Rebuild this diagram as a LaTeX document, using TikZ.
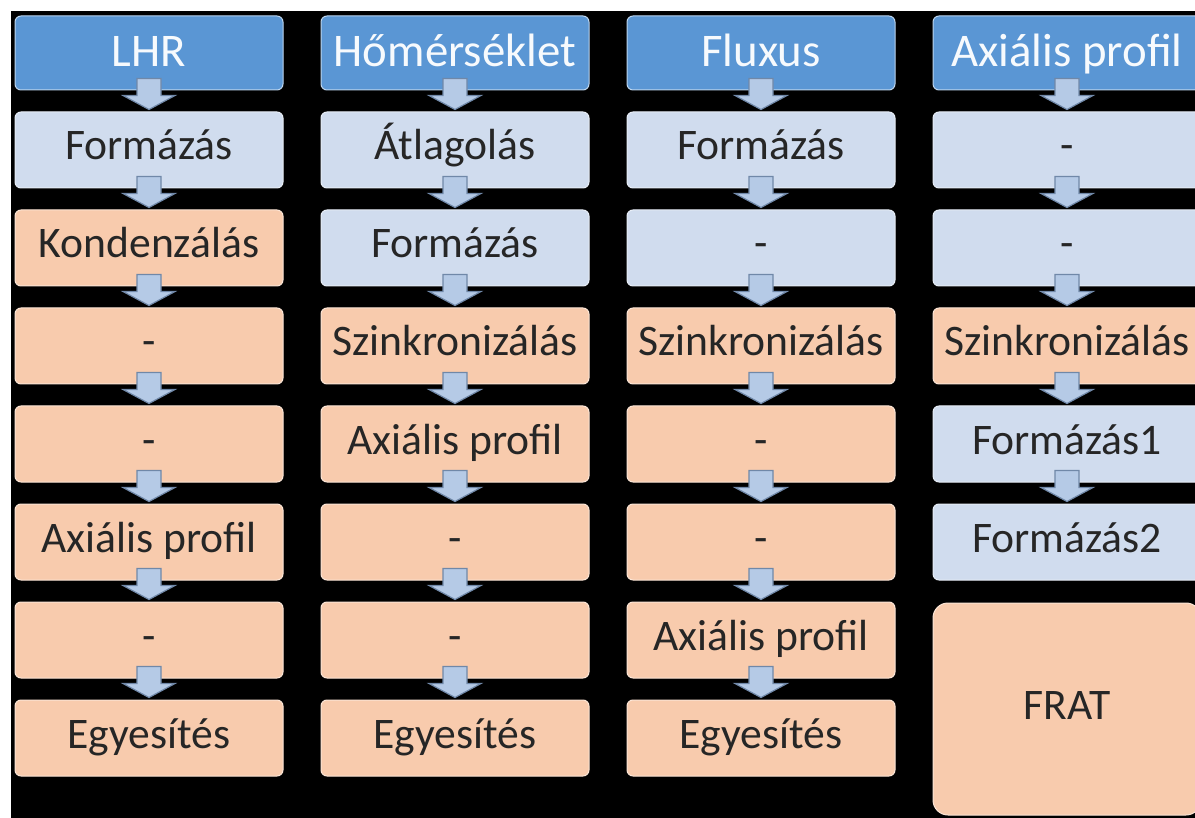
\documentclass[tikz,border=0pt]{standalone}
\usepackage{fontspec}
\setmainfont{Carlito}
\usetikzlibrary{calc}
\definecolor{hdrblue}{HTML}{5A96D4}
\definecolor{paleblue}{HTML}{D0DCEE}
\definecolor{peach}{HTML}{F8CBAD}
\definecolor{arrowfill}{HTML}{B5CAE6}
\definecolor{arrowline}{HTML}{7088A8}
\definecolor{ink}{HTML}{262626}
\newcommand{\flowto}[2]{\filldraw[flowarrow] ($(#1.south)+(-12,-12)$) -- ($(#1.south)+(-12,5)$) -- ($(#1.south)+(-26,5)$) -- ($(#2.north)+(0,-2)$) -- ($(#1.south)+(26,5)$) -- ($(#1.south)+(12,5)$) -- ($(#1.south)+(12,-12)$) -- cycle;}

\begin{document}
\begin{tikzpicture}[x=0.5pt,y=-0.5pt,
  every node/.style={rounded corners=3pt,minimum width=134pt,minimum height=38pt,inner sep=0pt,font=\fontsize{21.8}{26}\selectfont,text=ink,line width=0.5pt,text height=14pt,text depth=4pt},
  headbox/.style={fill=hdrblue,draw=white!60!hdrblue,text=white!95!hdrblue,minimum height=37pt,font=\fontsize{23.4}{28}\selectfont,text height=15pt,text depth=1pt},
  bluebox/.style={fill=paleblue,draw=white!50!paleblue},
  peachbox/.style={fill=peach,draw=white!50!peach},
  flowarrow/.style={fill=arrowfill,draw=arrowline,line width=0.6pt}]
  \useasboundingbox (0,0) rectangle (1195,818);
  \clip (0,0) rectangle (1195,818);
  \fill[white] (0,0) rectangle (1195,818);
  \fill[black] (11,11) rectangle (1195,818);

  \node[headbox] (l0) at (149, 53) {LHR};
  \node[bluebox] (l1) at (149, 150) {Formázás};
  \node[peachbox] (l2) at (149, 248) {Kondenzálás};
  \node[peachbox] (l3) at (149, 346) {-};
  \node[peachbox] (l4) at (149, 444) {-};
  \node[peachbox] (l5) at (149, 542) {Axiális profil};
  \node[peachbox] (l6) at (149, 640) {-};
  \node[peachbox] (l7) at (149, 738) {Egyesítés};

  \node[headbox] (h0) at (455, 53) {Hőmérséklet};
  \node[bluebox] (h1) at (455, 150) {Átlagolás};
  \node[bluebox] (h2) at (455, 248) {Formázás};
  \node[peachbox] (h3) at (455, 346) {Szinkronizálás};
  \node[peachbox] (h4) at (455, 444) {Axiális profil};
  \node[peachbox] (h5) at (455, 542) {-};
  \node[peachbox] (h6) at (455, 640) {-};
  \node[peachbox] (h7) at (455, 738) {Egyesítés};

  \node[headbox] (f0) at (761, 53) {Fluxus};
  \node[bluebox] (f1) at (761, 150) {Formázás};
  \node[bluebox] (f2) at (761, 248) {-};
  \node[peachbox] (f3) at (761, 346) {Szinkronizálás};
  \node[peachbox] (f4) at (761, 444) {-};
  \node[peachbox] (f5) at (761, 542) {-};
  \node[peachbox] (f6) at (761, 640) {Axiális profil};
  \node[peachbox] (f7) at (761, 738) {Egyesítés};

  \node[headbox] (a0) at (1067, 53) {Axiális profil};
  \node[bluebox] (a1) at (1067, 150) {-};
  \node[bluebox] (a2) at (1067, 248) {-};
  \node[peachbox] (a3) at (1067, 346) {Szinkronizálás};
  \node[bluebox] (a4) at (1067, 444) {Formázás1};
  \node[bluebox] (a5) at (1067, 542) {Formázás2};
  \node[peachbox,rounded corners=7.5pt,minimum height=106pt] (a6) at (1067, 709) {FRAT};

  \flowto{l0}{l1}
  \flowto{l1}{l2}
  \flowto{l2}{l3}
  \flowto{l3}{l4}
  \flowto{l4}{l5}
  \flowto{l5}{l6}
  \flowto{l6}{l7}
  \flowto{h0}{h1}
  \flowto{h1}{h2}
  \flowto{h2}{h3}
  \flowto{h3}{h4}
  \flowto{h4}{h5}
  \flowto{h5}{h6}
  \flowto{h6}{h7}
  \flowto{f0}{f1}
  \flowto{f1}{f2}
  \flowto{f2}{f3}
  \flowto{f3}{f4}
  \flowto{f4}{f5}
  \flowto{f5}{f6}
  \flowto{f6}{f7}
  \flowto{a0}{a1}
  \flowto{a1}{a2}
  \flowto{a2}{a3}
  \flowto{a3}{a4}
  \flowto{a4}{a5}
\end{tikzpicture}
\end{document}
